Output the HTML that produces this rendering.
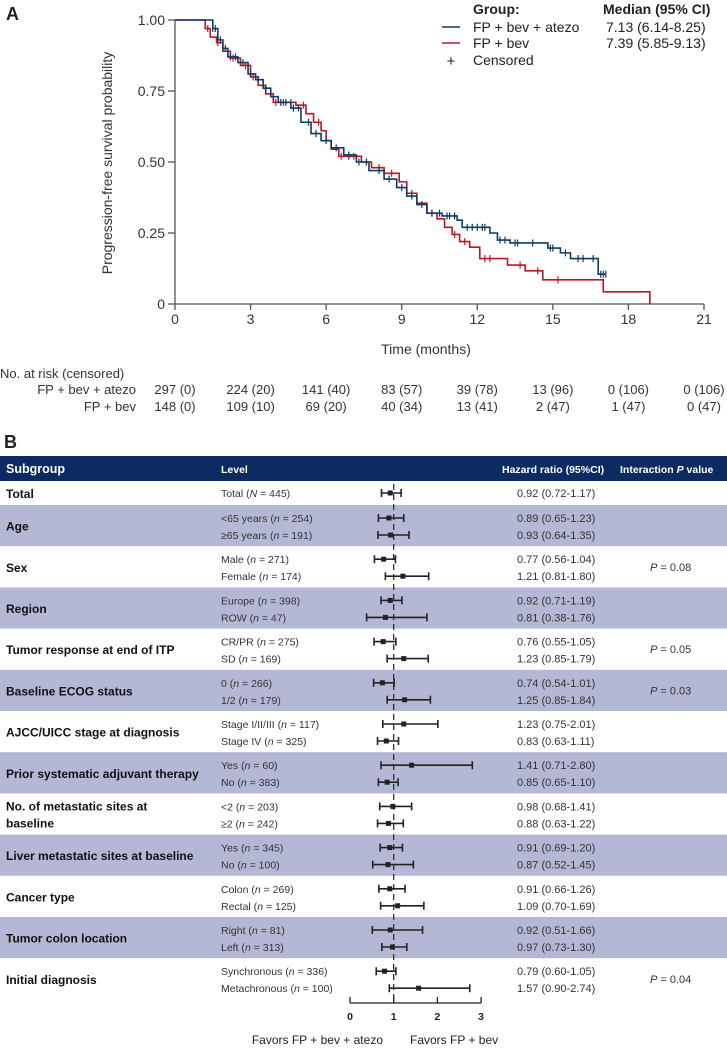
<!DOCTYPE html>
<html><head><meta charset="utf-8">
<style>
html,body{margin:0;padding:0;background:#fff;}
svg{display:block;font-family:"Liberation Sans",Arial,sans-serif;}
</style></head>
<body>
<svg id="fig" width="727" height="1049" viewBox="0 0 727 1049" xmlns="http://www.w3.org/2000/svg">
<text x="6" y="20" font-size="18" font-weight="bold" fill="#222">A</text>
<g id="km"></g>
<text x="0" y="378" font-size="13" fill="#333">No. at risk (censored)</text>
<g id="risk"></g>
<text x="4" y="448" font-size="18" font-weight="bold" fill="#222">B</text>
<g id="forest"></g>
</svg>
<script>
// ---- KM data ----
const blueTimes = [0,1.5,1.7,1.9,2.1,2.5,2.9,3.2,3.5,3.8,4.1,4.6,5.0,5.4,5.8,6.2,6.7,7.2,7.7,8.3,8.8,9.2,9.6,10.0,10.6,11.2,11.4,12.5,12.8,13.3,14.8,15.3,15.7,16.8];
const blueSurv  = [1.0,0.97,0.93,0.90,0.87,0.85,0.81,0.79,0.76,0.73,0.71,0.69,0.64,0.60,0.575,0.55,0.525,0.50,0.47,0.44,0.41,0.38,0.35,0.32,0.31,0.295,0.27,0.25,0.225,0.215,0.197,0.18,0.16,0.105];
const blueEnd = 17.1;
const blueCensor = [1.5,1.6,1.8,2.0,2.2,2.4,2.7,3.0,3.3,3.6,4.2,4.4,4.7,4.9,5.3,5.6,6.0,6.4,6.9,7.3,7.6,8.1,8.5,9.0,9.4,9.8,10.2,10.5,10.8,10.9,11.1,11.6,11.8,12.0,12.2,12.3,12.9,13.1,13.5,13.6,14.2,14.9,15.0,15.5,16.0,16.2,16.6,16.9,17.0,17.1];
const redTimes = [0,1.2,1.4,1.65,1.9,2.2,2.6,3.0,3.3,3.6,3.9,4.8,5.2,5.5,5.8,6.0,6.2,6.5,7.4,7.8,8.3,8.9,9.2,9.6,10.0,10.4,10.7,11.0,11.3,11.7,12.1,13.2,13.9,14.6,17.0,18.85];
const redSurv  = [1.0,0.97,0.94,0.92,0.89,0.866,0.84,0.80,0.77,0.74,0.71,0.70,0.67,0.64,0.61,0.575,0.545,0.52,0.50,0.48,0.46,0.43,0.39,0.355,0.32,0.30,0.27,0.245,0.22,0.20,0.16,0.137,0.117,0.085,0.043,0.0];
const redEnd = 18.85;
const redCensor = [1.3,1.7,2.3,2.8,3.1,4.0,4.3,4.6,5.1,5.7,6.6,6.9,7.1,7.6,8.1,8.6,9.4,10.2,11.1,11.5,12.3,12.5,13.7,14.4,15.2];
const xTicks = [0,3,6,9,12,15,18,21];
const yTicks = [0,0.25,0.5,0.75,1.0];
const yTickLabels = ["0","0.25","0.50","0.75","1.00"];
const riskAtezo = ["297 (0)","224 (20)","141 (40)","83 (57)","39 (78)","13 (96)","0 (106)","0 (106)"];
const riskBev = ["148 (0)","109 (10)","69 (20)","40 (34)","13 (41)","2 (47)","1 (47)","0 (47)"];

// ---- forest data ----
const groups = ["Total","Age","Sex","Region","Tumor response at end of ITP","Baseline ECOG status","AJCC/UICC stage at diagnosis","Prior systematic adjuvant therapy","No. of metastatic sites at|baseline","Liver metastatic sites at baseline","Cancer type","Tumor colon location","Initial diagnosis"];
const levels = [
 ["Total (<i>N</i> = 445)"],
 ["<65 years (<i>n</i> = 254)","≥65 years (<i>n</i> = 191)"],
 ["Male (<i>n</i> = 271)","Female (<i>n</i> = 174)"],
 ["Europe (<i>n</i> = 398)","ROW (<i>n</i> = 47)"],
 ["CR/PR (<i>n</i> = 275)","SD (<i>n</i> = 169)"],
 ["0 (<i>n</i> = 266)","1/2 (<i>n</i> = 179)"],
 ["Stage I/II/III (<i>n</i> = 117)","Stage IV (<i>n</i> = 325)"],
 ["Yes (<i>n</i> = 60)","No (<i>n</i> = 383)"],
 ["<2 (<i>n</i> = 203)","≥2 (<i>n</i> = 242)"],
 ["Yes (<i>n</i> = 345)","No (<i>n</i> = 100)"],
 ["Colon (<i>n</i> = 269)","Rectal (<i>n</i> = 125)"],
 ["Right (<i>n</i> = 81)","Left (<i>n</i> = 313)"],
 ["Synchronous (<i>n</i> = 336)","Metachronous (<i>n</i> = 100)"]];
const hrEst = [[0.92],[0.89,0.93],[0.77,1.21],[0.92,0.81],[0.76,1.23],[0.74,1.25],[1.23,0.83],[1.41,0.85],[0.98,0.88],[0.91,0.87],[0.91,1.09],[0.92,0.97],[0.79,1.57]];
const hrLo  = [[0.72],[0.65,0.64],[0.56,0.81],[0.71,0.38],[0.55,0.85],[0.54,0.85],[0.75,0.63],[0.71,0.65],[0.68,0.63],[0.69,0.52],[0.66,0.70],[0.51,0.73],[0.60,0.90]];
const hrHi  = [[1.17],[1.23,1.35],[1.04,1.80],[1.19,1.76],[1.05,1.79],[1.01,1.84],[2.01,1.11],[2.80,1.10],[1.41,1.22],[1.20,1.45],[1.26,1.69],[1.66,1.30],[1.05,2.74]];
const pVals = ["","","0.08","","0.05","0.03","","","","","","","0.04"];
const fTicks = [0,1,2,3];

const NS="http://www.w3.org/2000/svg";
function mk(tag, attrs, parent){const e=document.createElementNS(NS,tag);for(const k in attrs)e.setAttribute(k,attrs[k]);parent.appendChild(e);return e;}

// KM axes
const kmX = t => 175 + t*(529/21);
const kmY = s => 304 - s*284;
const km = document.getElementById('km');
let ax = mk('path',{d:`M175 20 V304 H704`,stroke:'#555','stroke-width':1.3,fill:'none'},km);


yTicks.forEach((v,i)=>{
 const y=kmY(v);
 let t=mk('line',{x1:168,x2:175,y1:y,y2:y,stroke:'#555','stroke-width':1.3},km);
 
 
 let l=mk('text',{x:165,y:y+5,'font-size':14,'text-anchor':'end',fill:'#333'},km);
 l.textContent=yTickLabels[i];
 
 
});
xTicks.forEach(v=>{
 const x=kmX(v);
 let t=mk('line',{x1:x,x2:x,y1:304,y2:310,stroke:'#555','stroke-width':1.3},km);
 
 
 let l=mk('text',{x:x,y:324,'font-size':14,'text-anchor':'middle',fill:'#333'},km);
 l.textContent=v;
 
 
});
let yt=mk('text',{x:0,y:0,'font-size':14,'text-anchor':'middle',fill:'#333',transform:'translate(112,163) rotate(-90)'},km);
yt.textContent='Progression-free survival probability';


let xt=mk('text',{x:426,y:354,'font-size':14,'text-anchor':'middle',fill:'#333'},km);
xt.textContent='Time (months)';



function survAt(times,surv,t){let s=surv[0];for(let i=0;i<times.length;i++){if(times[i]<=t)s=surv[i];}return s;}
function drawCurve(times,surv,end,cens,color,name){
 let d=`M${kmX(times[0])} ${kmY(surv[0])}`;
 for(let i=1;i<times.length;i++){d+=` H${kmX(times[i])} V${kmY(surv[i])}`;}
 d+=` H${kmX(end)}`;
 let p=mk('path',{d,stroke:color,'stroke-width':1.6,fill:'none'},km);
 
 
 cens.forEach(t=>{
  const x=kmX(t),y=kmY(survAt(times,surv,t));
  let c=mk('path',{d:`M${x} ${y-3.5} V${y+3.5}`,stroke:color,'stroke-width':1.2},km);
  
  
 });
}
drawCurve(redTimes,redSurv,redEnd,redCensor,'#b51a22','fp-bev');
drawCurve(blueTimes,blueSurv,blueEnd,blueCensor,'#0e3a6c','fp-bev-atezo');

// legend
const lg=mk('g',{},km);


[['Group:',473,14,true],['Median (95% CI)',603,14,true],['FP + bev + atezo',473,32,false],['7.13 (6.14-8.25)',606,32,false],['FP + bev',473,48,false],['7.39 (5.85-9.13)',606,48,false],['Censored',473,65,false]].forEach(a=>{
 let t=mk('text',{x:a[1],y:a[2],'font-size':14,fill:'#222','font-weight':a[3]?'bold':'normal'},lg);
 t.textContent=a[0];
 
 
});
let l1=mk('line',{x1:442,x2:460,y1:27,y2:27,stroke:'#0e3a6c','stroke-width':1.6},lg);


let l2=mk('line',{x1:442,x2:460,y1:43,y2:43,stroke:'#b51a22','stroke-width':1.6},lg);


let l3=mk('text',{x:451,y:66,'font-size':15,'text-anchor':'middle',fill:'#222'},lg);
l3.textContent='+';



// risk table
const risk=document.getElementById('risk');
[['FP + bev + atezo',394,riskAtezo],['FP + bev',411,riskBev]].forEach(r=>{
 let lab=mk('text',{x:136,y:r[1],'font-size':13,'text-anchor':'end',fill:'#333'},risk);
 lab.textContent=r[0];
 
 
 r[2].forEach((v,i)=>{
  let t=mk('text',{x:kmX(xTicks[i]),y:r[1],'font-size':13,'text-anchor':'middle',fill:'#333'},risk);
  t.textContent=v;
  
  
 });
});

// forest
const fo=document.getElementById('forest');
const fx = v => 350 + v*43.7;
const gTop = i => i===0 ? 481 : 505 + (i-1)*41.2;
const gBot = i => i===0 ? 505 : 505 + i*41.2;
let hdr=mk('rect',{x:0,y:456,width:727,height:25,fill:'#0c2c61'},fo);


[['Subgroup',6,12.5],['Level',221,10.5],['Hazard ratio (95%CI)',502,10.5]].forEach(h=>{
 let t=mk('text',{x:h[1],y:473,'font-size':h[2],'font-weight':'bold',fill:'#fff'},fo);
 t.textContent=h[0];
 
 
});
let hp=mk('text',{x:620,y:473,'font-size':10.5,'font-weight':'bold',fill:'#fff'},fo);
hp.innerHTML='Interaction <tspan font-style="italic">P</tspan> value';



groups.forEach((g,i)=>{
 const top=gTop(i),bot=gBot(i);
 if(i%2===1){
  let r=mk('rect',{x:0,y:top,width:727,height:bot-top,fill:'#b4b8d5'},fo);
  
  
 }
});
let dash=mk('line',{x1:fx(1),x2:fx(1),y1:484,y2:1001,stroke:'#222','stroke-width':1.2,'stroke-dasharray':'6,4'},fo);



groups.forEach((g,i)=>{
 const top=gTop(i),bot=gBot(i);
 const lines=g.split('|');
 const cy=(top+bot)/2;
 lines.forEach((ln,k)=>{
  const y = lines.length===1 ? cy+5 : top+17+k*17;
  let t=mk('text',{x:6,y:y,'font-size':12,'font-weight':'bold',fill:'#111'},fo);
  t.textContent=ln;
  
  
 });
 levels[i].forEach((lv,k)=>{
  const ry = levels[i].length===1 ? cy : top+13+k*17;
  let t=mk('text',{x:221,y:ry+4,'font-size':10.5,fill:'#333'},fo);
  t.innerHTML=lv.replace(/</g,'&lt;').replace(/&lt;i>/g,'<tspan font-style="italic">').replace(/&lt;\/i>/g,'</tspan>');
  
  
  const e=hrEst[i][k],lo=hrLo[i][k],hi=hrHi[i][k];
  let w=mk('path',{d:`M${fx(lo)} ${ry} H${fx(hi)} M${fx(lo)} ${ry-4} V${ry+4} M${fx(hi)} ${ry-4} V${ry+4}`,stroke:'#222','stroke-width':1.6,fill:'none'},fo);
  
  
  let sq=mk('rect',{x:fx(e)-2.5,y:ry-2.5,width:5,height:5,fill:'#222'},fo);
  
  
  let h=mk('text',{x:517,y:ry+4,'font-size':11,fill:'#333'},fo);
  h.textContent=`${e.toFixed(2)} (${lo.toFixed(2)}-${hi.toFixed(2)})`;
  
  
 });
 if(pVals[i]){
  let p=mk('text',{x:650,y:cy+4,'font-size':11,fill:'#333'},fo);
  p.innerHTML=`<tspan font-style="italic">P</tspan> = ${pVals[i]}`;
  
  
 }
});
let fax=mk('path',{d:`M${fx(0)} 1003 H${fx(3)}`,stroke:'#222','stroke-width':1.3},fo);


fTicks.forEach(v=>{
 let t=mk('line',{x1:fx(v),x2:fx(v),y1:997,y2:1003,stroke:'#222','stroke-width':1.3},fo);
 
 
 let l=mk('text',{x:fx(v),y:1020,'font-size':10.5,'font-weight':'bold','text-anchor':'middle',fill:'#222'},fo);
 l.textContent=v;
 
 
});
let fa=mk('text',{x:383,y:1044,'font-size':12,'text-anchor':'end',fill:'#222'},fo);
fa.textContent='Favors FP + bev + atezo';


let fb=mk('text',{x:410,y:1044,'font-size':12,fill:'#222'},fo);
fb.textContent='Favors FP + bev';


</script>
</body></html>
